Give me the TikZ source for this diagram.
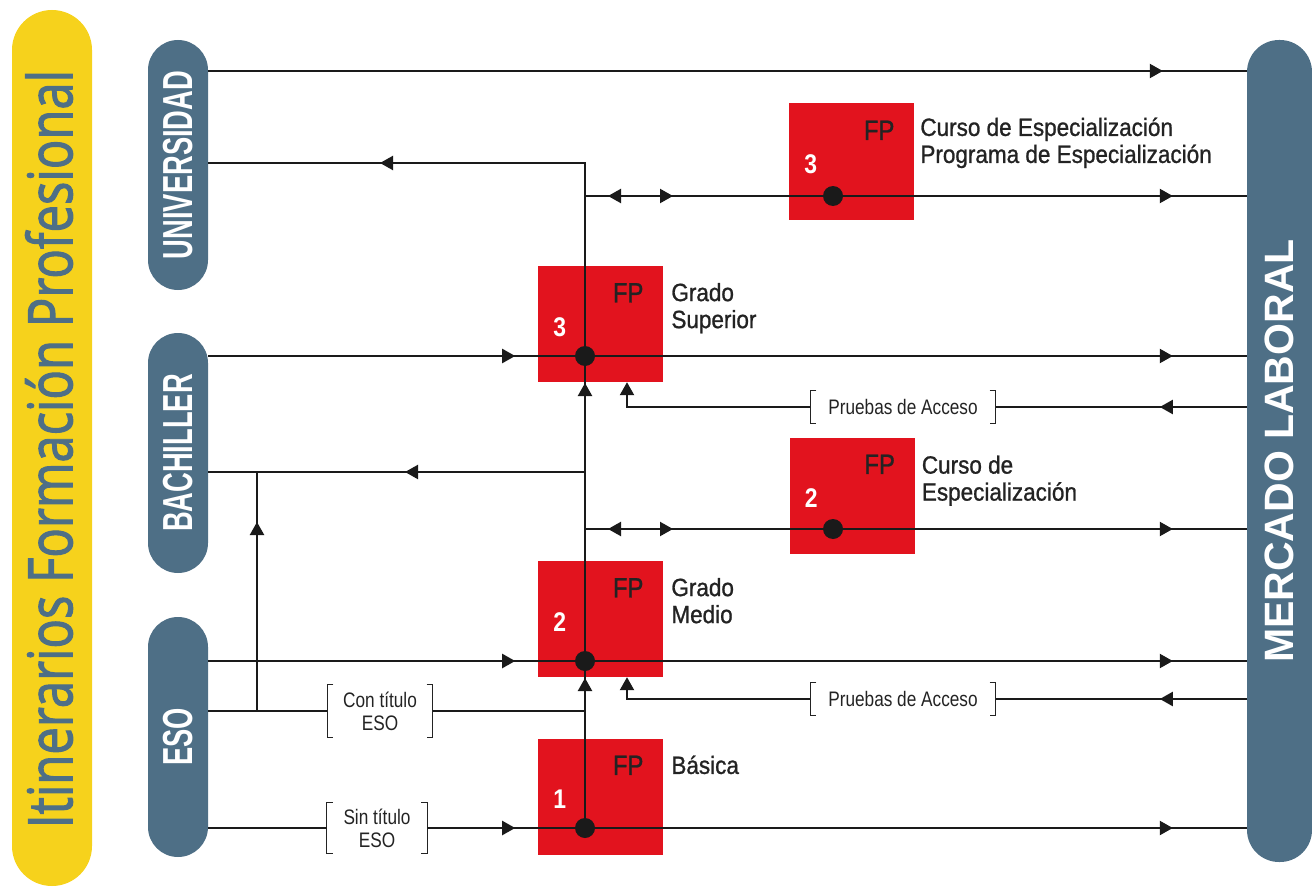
\documentclass[tikz,border=0pt]{standalone}
\usepackage{fontspec}
\usepackage{graphicx}
\setmainfont{Liberation Sans}
\newfontfamily\lblfont[FakeStretch=0.9, FakeBold=1]{Liberation Sans}
\newfontfamily\brkfont[FakeStretch=0.82]{Liberation Sans}
\newfontfamily\pillfont[FakeStretch=0.65]{Liberation Sans Bold}
\newfontfamily\mercfont{Liberation Sans Bold}
\newfontfamily\numfont[FakeStretch=0.85]{Liberation Sans Bold}
\newfontfamily\fpfont[FakeStretch=0.85, FakeBold=1]{Liberation Sans}
\newfontfamily\titlefont[FakeBold=2]{Open Sans}
\usetikzlibrary{arrows.meta,decorations.markings}

\definecolor{amarillo}{HTML}{F6D21C}
\definecolor{pizarra}{HTML}{4E6F86}
\definecolor{rojofp}{HTML}{E2131E}
\definecolor{linea}{HTML}{1A1A1A}
\definecolor{texto}{HTML}{232323}

\tikzset{
  >={Triangle[length=13pt,width=14pt]},
  ln/.style={draw=linea, line width=2.2pt},
  arrowat/.style={postaction={decoration={markings, mark=at position #1 with {\arrow{>}}}, decorate}},
  backat/.style={postaction={decoration={markings, mark=at position #1 with {\arrowreversed{>}}}, decorate}},
  pill/.style={fill=pizarra, rounded corners=30pt, minimum width=60pt, inner sep=0pt,
    text=white, font=\pillfont\fontsize{42}{42}\selectfont},
  fpbox/.style={fill=rojofp, minimum width=125pt, minimum height=116pt, inner sep=0pt},
  fptxt/.style={text=texto, inner sep=0pt, font=\fpfont\fontsize{28}{28}\selectfont},
  numtxt/.style={text=white, inner sep=0pt, font=\numfont\fontsize{27}{27}\selectfont},
  lbl/.style={anchor=north west, align=left, inner sep=0pt, text=texto,
    font=\lblfont\fontsize{25}{27}\selectfont},
  brklbl/.style={align=center, inner sep=0pt, text=texto, font=\brkfont\fontsize{21}{23}\selectfont},
  brk/.style={draw=texto, line width=1.3pt},
}

\begin{document}
\begin{tikzpicture}[x=1pt, y=-1pt]
  \useasboundingbox (0,0) rectangle (1312,888);
  % banda del titulo
  \node[fill=amarillo, rounded corners=40pt, minimum width=80pt, minimum height=876pt, inner sep=0pt] (banda) at (52,448) {};
  \node[rotate=90, text=pizarra, inner sep=0pt] (titulo) at (49,449)
    {\resizebox{758pt}{47pt}{\titlefont Itinerarios Formación Profesional}};
  % salidas
  \node[pill, minimum height=250pt] (univ) at (178,165) {\rotatebox{90}{UNIVERSIDAD}};
  \node[pill, minimum height=240pt] (bach) at (178,453) {\rotatebox{90}{BACHILLER}};
  \node[pill, minimum height=240pt] (eso) at (178,737) {\rotatebox{90}{ESO}};
  \node[pill, minimum width=65pt, minimum height=822pt, rounded corners=32pt,
    font=\mercfont\fontsize{41}{41}\selectfont] (merc) at (1279.5,451) {\rotatebox{90}{MERCADO LABORAL}};
  % cajas FP
  \foreach \n/\cx/\cy/\k in {gs/600.5/324/3, gm/600.5/619/2, fpb/600.5/796.5/1, ce3/851.5/161.5/3, ce2/852/495.5/2}{
    \node[fpbox] (\n) at (\cx,\cy) {};
    \node[fptxt] (\n-fp) at ([shift={(-35,27)}]\n.north east) {FP};
    \node[numtxt] (\n-num) at ([shift={(22,61)}]\n.north west) {\k};
  }
  \node[lbl] (gs-l) at ([shift={(8,17)}]gs.north east) {Grado\\Superior};
  \node[lbl] (gm-l) at ([shift={(8,17)}]gm.north east) {Grado\\Medio};
  \node[lbl] (fpb-l) at ([shift={(8,17)}]fpb.north east) {Básica};
  \node[lbl] (ce3-l) at ([shift={(6,14)}]ce3.north east) {Curso de Especialización\\Programa de Especialización};
  \node[lbl] (ce2-l) at ([shift={(7,18)}]ce2.north east) {Curso de\\Especialización};
  % etiquetas entre corchetes
  \node[brklbl, minimum width=185pt, minimum height=33pt] (pa3) at (903,407) {Pruebas de Acceso};
  \node[brklbl, minimum width=185pt, minimum height=33pt] (pa2) at (903,699) {Pruebas de Acceso};
  \node[brklbl, minimum width=105pt, minimum height=52pt] (cte) at (380,711) {Con título\\ESO};
  \node[brklbl, minimum width=100pt, minimum height=51pt] (ste) at (377,828) {Sin título\\ESO};
  \foreach \b in {pa3,pa2,cte,ste}{
    \draw[brk] ([xshift=6pt]\b.north west) -- (\b.north west) -- (\b.south west) -- ([xshift=6pt]\b.south west);
    \draw[brk] ([xshift=-6pt]\b.north east) -- (\b.north east) -- (\b.south east) -- ([xshift=-6pt]\b.south east);
  }
  % puntos de paso
  \coordinate (bus) at (585,0);
  \coordinate (acc) at (627,0);
  \coordinate (sub) at (257,0);
  \coordinate (rtop) at (0,71);
  \coordinate (runi) at (0,163);
  \coordinate (rpa3) at (0,407);
  \coordinate (rbach) at (0,472);
  \coordinate (rpa2) at (0,699);
  \coordinate (rcon) at (0,711);
  \coordinate (d1) at (585,828);
  \coordinate (d2) at (585,661);
  \coordinate (d3) at (585,356);
  \coordinate (e2) at (833,529);
  \coordinate (e3) at (833,196);
  % itinerarios
  \draw[ln, arrowat=-84pt] (univ.east |- rtop) -- (merc.west |- rtop);
  \draw[ln, arrowat=150pt, arrowat=445pt, arrowat=870pt] (d1) -- (bus |- runi) -- (univ.east |- runi);
  \draw[ln, backat=23pt, arrowat=88pt, arrowat=-74pt] (bus |- e3) -- (merc.west |- e3);
  \draw[ln, arrowat=307pt, arrowat=-74pt] (bach.east |- d3) -- (merc.west |- d3);
  \draw[ln, arrowat=87pt] (merc.west |- rpa3) -- (pa3.east);
  \draw[ln, ->] (pa3.west) -- (acc |- rpa3) -- (acc |- gs.south);
  \draw[ln, arrowat=180pt] (bus |- rbach) -- (bach.east |- rbach);
  \draw[ln, arrowat=189pt] (sub |- rcon) -- (sub |- rbach);
  \draw[ln, backat=23pt, arrowat=88pt, arrowat=-74pt] (bus |- e2) -- (merc.west |- e2);
  \draw[ln, arrowat=307pt, arrowat=-74pt] (eso.east |- d2) -- (merc.west |- d2);
  \draw[ln, arrowat=87pt] (merc.west |- rpa2) -- (pa2.east);
  \draw[ln, ->] (pa2.west) -- (acc |- rpa2) -- (acc |- gm.south);
  \draw[ln] (eso.east |- rcon) -- (cte.west);
  \draw[ln] (cte.east) -- (bus |- rcon);
  \draw[ln] (eso.east |- d1) -- (ste.west);
  \draw[ln, arrowat=88pt, arrowat=-74pt] (ste.east) -- (merc.west |- d1);
  \foreach \d in {d1,d2,d3,e2,e3}
    \fill[linea] (\d) circle (10pt);
\end{tikzpicture}
\end{document}
